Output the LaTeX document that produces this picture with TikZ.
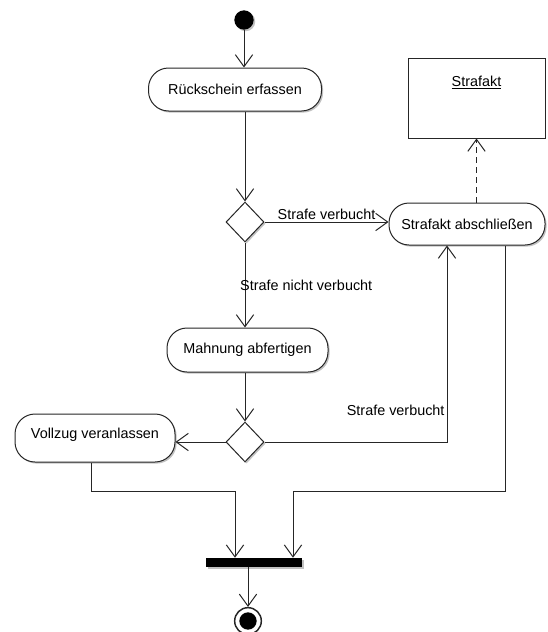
\documentclass[tikz,border=0pt]{standalone}
\usepackage{fontspec}
\setmainfont{Liberation Sans}
\usetikzlibrary{arrows.meta,shapes.geometric,shadows}

\begin{document}
\begin{tikzpicture}[x=0.75pt,y=-0.75pt,
  every node/.style={font=\fontsize{10.8}{13}\selectfont},
  line/.style={draw=black!85, line width=0.75pt},
  arr/.style={line, -{Straight Barb[length=9pt,width=13pt]}},
  shade/.style={drop shadow={shadow xshift=1.2pt, shadow yshift=-1.2pt, fill=black!40, opacity=0.6}},
  act/.style={draw=black!85, line width=0.75pt, fill=white, rounded corners=15pt, inner sep=0pt, shade},
  decision/.style={draw=black!85, line width=0.75pt, fill=white, diamond, inner sep=0pt,
                   minimum width=28.5pt, minimum height=30pt, shade},
  objbox/.style={draw=black!85, line width=0.75pt, fill=white, inner sep=0pt},
  lbl/.style={inner sep=1.5pt}
]
\useasboundingbox (0,0) rectangle (547,632);

% initial and final nodes
\node[circle, fill=black, minimum size=14.5pt, inner sep=0pt, shade] (start) at (244,20) {};
\node[circle, draw=black!85, line width=1.1pt, fill=white, minimum size=20pt, inner sep=0pt] (end) at (248,621) {};
\fill[black] (end.center) circle (6.5pt);

% actions
\node[act, minimum width=129.75pt, minimum height=32.25pt] (rs) at (235,89.5) {Rückschein erfassen};
\node[act, minimum width=117pt, minimum height=31.5pt] (sa) at (467,224) {Strafakt abschließen};
\node[act, minimum width=120.75pt, minimum height=33pt] (mh) at (247.5,350) {Mahnung abfertigen};
\node[act, minimum width=120pt, minimum height=36pt, text height=10pt, text depth=10pt] (vz) at (95,438) {Vollzug veranlassen};

% object
\node[objbox, minimum width=102.75pt, minimum height=60pt, text height=8pt, text depth=25.5pt] (st) at (476.5,98) {\underline{Strafakt}};

% decisions
\node[decision] (d1) at (245,222) {};
\node[decision] (d2) at (245,442) {};

% join bar
\node[fill=black, minimum width=72pt, minimum height=6.75pt, inner sep=0pt, shade] (fork) at (254,562.5) {};

% bend points of the merging flows
\coordinate (jl) at (91,491);
\coordinate (jr) at (505,491);

% control flows
\draw[arr] (start) -- (start |- rs.north);
\draw[arr] (rs.south -| d1.north) -- (d1.north);
\draw[arr] (d1.east) -- node[lbl, above] {Strafe verbucht} (d1.east -| sa.west);
\draw[arr] (d1.south) -- node[anchor=west, xshift=-4pt, inner sep=0pt] {Strafe nicht verbucht} (d1.south |- mh.north);
\draw[arr] (mh.south -| d2.north) -- (d2.north);
\draw[arr] (d2.west) -- (d2.west -| vz.east);
\draw[arr] (d2.east) -| node[lbl, anchor=east, pos=0.58] {Strafe verbucht} ([xshift=-15pt]sa.south);
\draw[arr] (vz.south -| jl) -- (jl) -| ([xshift=-14.25pt]fork.north);
\draw[arr] (sa.south -| jr) -- (jr) -| ([xshift=29.25pt]fork.north);
\draw[arr] (fork.south -| end.north) -- (end.north);

% object flow
\draw[arr, dash pattern=on 4.5pt off 3pt] (sa.north -| st.south) -- (st.south);
\end{tikzpicture}
\end{document}
